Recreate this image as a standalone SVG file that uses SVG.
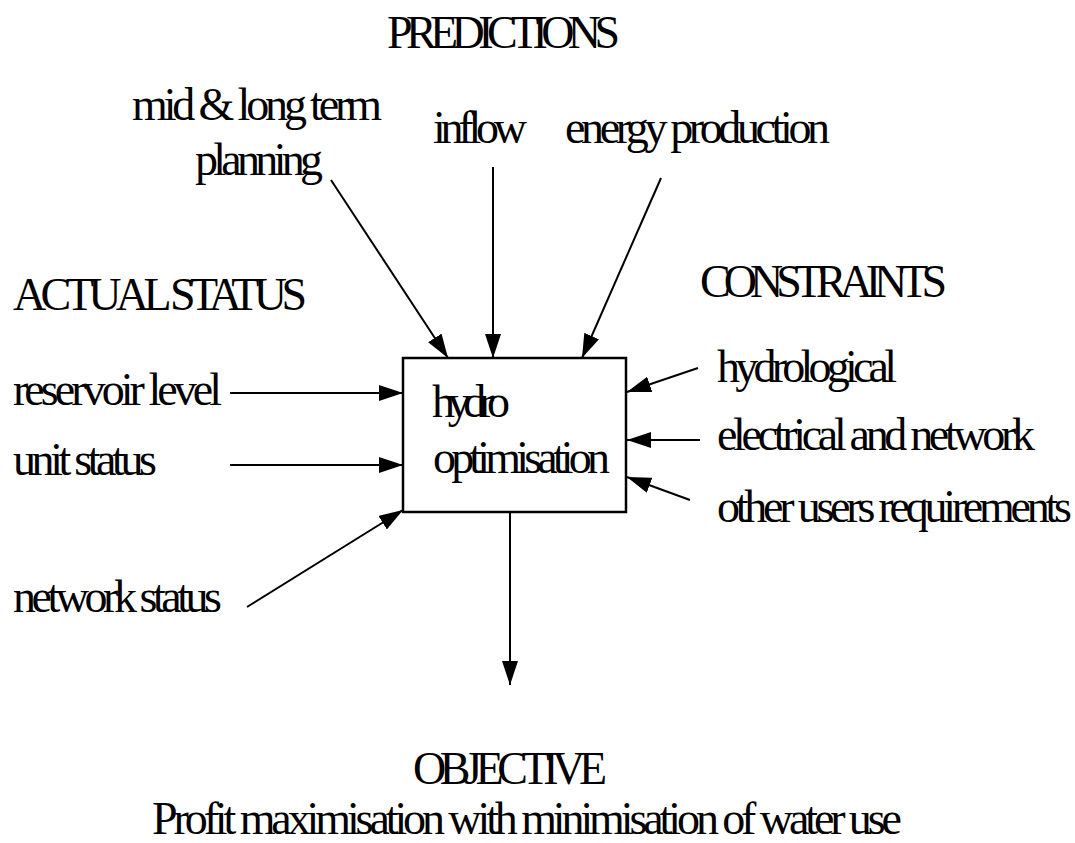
<svg xmlns="http://www.w3.org/2000/svg" width="1075" height="843" viewBox="0 0 1075 843">
<style>
text{font-family:'Liberation Serif','Times New Roman',serif;font-size:46px;fill:#000}
.c line{stroke:#000;stroke-width:2;marker-end:url(#ah)}
.box{fill:#fff;stroke:#000;stroke-width:2.5}
</style>
<defs>
<marker id="ah" markerUnits="userSpaceOnUse" markerWidth="24" markerHeight="16" refX="24" refY="8" orient="auto" viewBox="0 0 24 16">
<path d="M0,0 L24,8 L0,16 z" fill="#000"/>
</marker>
</defs>
<rect width="1075" height="843" fill="#fff"/>
<g id="labels">
<text x="387" y="48" textLength="233">PREDICTIONS</text>
<text x="13" y="310" textLength="294">ACTUAL STATUS</text>
<text x="700" y="297" textLength="247">CONSTRAINTS</text>
<text x="413" y="784" textLength="194">OBJECTIVE</text>
<text x="152" y="834" textLength="750">Profit maximisation with minimisation of water use</text>
</g>
<g id="c" class="c">
<line x1="331" y1="180" x2="448" y2="358"/>
<line x1="493" y1="167" x2="493" y2="358"/>
<line x1="661" y1="178" x2="582" y2="358"/>
<line x1="230" y1="393" x2="403" y2="393"/>
<line x1="230" y1="465" x2="403" y2="465"/>
<line x1="247" y1="607" x2="403" y2="510"/>
<line x1="698" y1="368" x2="627" y2="392"/>
<line x1="700" y1="440" x2="627" y2="440"/>
<line x1="690" y1="500" x2="627" y2="477"/>
<line x1="510" y1="512" x2="510" y2="685"/>
</g>
<g id="hydro">
<rect class="box" x="403" y="358" width="223" height="154"/>
<text x="432" y="417" textLength="78">hydro</text>
<text x="433" y="473" textLength="177">optimisation</text>
</g>
<g id="planning"><text x="132" y="120" textLength="250">mid &amp; long term</text><text x="195" y="175" textLength="128">planning</text></g>
<g id="inflow"><text x="433" y="143" textLength="94">inflow</text></g>
<g id="energy"><text x="565" y="143" textLength="265">energy production</text></g>
<g id="reservoir"><text x="13" y="405" textLength="209">reservoir level</text></g>
<g id="unit"><text x="13" y="475" textLength="144">unit status</text></g>
<g id="network"><text x="13" y="612" textLength="209">network status</text></g>
<g id="hydrological"><text x="717" y="382" textLength="180">hydrological</text></g>
<g id="electrical"><text x="717" y="450" textLength="318">electrical and network</text></g>
<g id="other"><text x="717" y="522" textLength="355">other users requirements</text></g>
</svg>
